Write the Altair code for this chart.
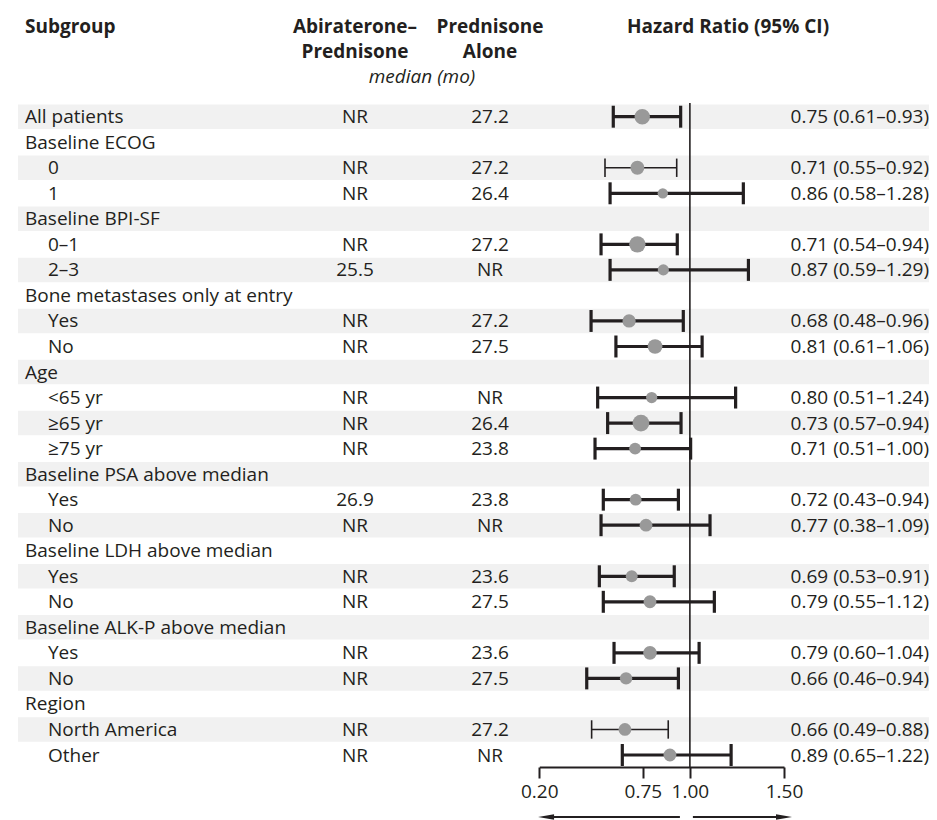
import altair as alt
import pandas as pd

# ---------------- data ----------------
labels = ["All patients", "Baseline ECOG", "0", "1", "Baseline BPI-SF", "0–1", "2–3",
          "Bone metastases only at entry", "Yes", "No", "Age", "<65 yr", "≥65 yr", "≥75 yr",
          "Baseline PSA above median", "Yes", "No", "Baseline LDH above median", "Yes", "No",
          "Baseline ALK-P above median", "Yes", "No", "Region", "North America", "Other"]
level = [0, 0, 1, 1, 0, 1, 1, 0, 1, 1, 0, 1, 1, 1, 0, 1, 1, 0, 1, 1, 0, 1, 1, 0, 1, 1]
abi_median = ["NR", "", "NR", "NR", "", "NR", "25.5", "", "NR", "NR", "", "NR", "NR", "NR",
              "", "26.9", "NR", "", "NR", "NR", "", "NR", "NR", "", "NR", "NR"]
pred_median = ["27.2", "", "27.2", "26.4", "", "27.2", "NR", "", "27.2", "27.5", "", "NR", "26.4", "23.8",
               "", "23.8", "NR", "", "23.6", "27.5", "", "23.6", "27.5", "", "27.2", "NR"]
hr_text = ["0.75 (0.61–0.93)", "", "0.71 (0.55–0.92)", "0.86 (0.58–1.28)", "",
           "0.71 (0.54–0.94)", "0.87 (0.59–1.29)", "", "0.68 (0.48–0.96)", "0.81 (0.61–1.06)", "",
           "0.80 (0.51–1.24)", "0.73 (0.57–0.94)", "0.71 (0.51–1.00)", "",
           "0.72 (0.43–0.94)", "0.77 (0.38–1.09)", "", "0.69 (0.53–0.91)", "0.79 (0.55–1.12)", "",
           "0.79 (0.60–1.04)", "0.66 (0.46–0.94)", "", "0.66 (0.49–0.88)", "0.89 (0.65–1.22)"]
# drawn positions
hr_point = [0.747, None, 0.721, 0.856, None, 0.721, 0.859, None, 0.677, 0.815, None,
            0.797, 0.740, 0.709, None, 0.712, 0.767, None, 0.691, 0.788, None,
            0.788, 0.661, None, 0.655, 0.894]
ci_lo = [0.593, None, 0.549, 0.576, None, 0.528, 0.576, None, 0.475, 0.607, None,
         0.510, 0.563, 0.496, None, 0.540, 0.528, None, 0.519, 0.540, None,
         0.597, 0.452, None, 0.478, 0.641]
ci_hi = [0.951, None, 0.930, 1.284, None, 0.933, 1.311, None, 0.965, 1.065, None,
         1.243, 0.953, 1.004, None, 0.939, 1.107, None, 0.917, 1.130, None,
         1.049, 0.939, None, 0.885, 1.219]
weight = [76, None, 61, 34, None, 85, 40, None, 56, 69, None, 40, 90, 45, None,
          45, 52, None, 45, 53, None, 59, 49, None, 52, 53]
axis_ticks = [0.20, 0.75, 1.00, 1.50]

df = pd.DataFrame({
    "row": list(range(len(labels))), "label": labels, "level": level,
    "abi": abi_median, "pred": pred_median, "hrt": hr_text,
    "hr": hr_point, "lo": ci_lo, "hi": ci_hi, "w": weight,
})
one = pd.DataFrame({"k": [0]})

INK = "#231f20"
FONT = "Open Sans"
FS = 19
THIN = "datum.row == 2 || datum.row == 24"
W, H = 921, 759

xsc = alt.Scale(domain=[0.2, 1.5], range=[531.3, 776], zero=False, nice=False)
ysc = alt.Scale(domain=[0, 25], range=[108.7, 747], zero=False, nice=False)
xaxis = alt.Axis(values=axis_ticks, format=".2f", title=None, grid=False, tickSize=11,
                 tickWidth=2, domainWidth=2, domainColor=INK, tickColor=INK, labelColor=INK,
                 labelFont=FONT, labelFontSize=FS, labelPadding=4, labelFlush=False)
X = lambda f: alt.X(f, scale=xsc, axis=xaxis)
XD = lambda v: alt.XDatum(v, scale=xsc, axis=xaxis)
Y = lambda f: alt.Y(f, scale=ysc, axis=None)

bands = alt.Chart(df).transform_filter("datum.row % 2 == 0").transform_calculate(
    y0="datum.row - 0.48", y1="datum.row + 0.48"
).mark_rect(color="#f1f1f1").encode(
    x=alt.value(10), x2=alt.value(W), y=Y("y0:Q"), y2="y1:Q")

ci = alt.Chart(df).transform_filter("isValid(datum.hr)").mark_rule(color=INK).encode(
    x=X("lo:Q"), x2="hi:Q", y=Y("row:Q"),
    strokeWidth=alt.condition(THIN, alt.value(1.6), alt.value(3.2)))

refline = alt.Chart(one).mark_rule(color=INK, strokeWidth=1.6).encode(
    x=XD(1.0), y=alt.value(95), y2=alt.value(H))

caps = alt.Chart(df).transform_filter("isValid(datum.hr)").transform_fold(
    ["lo", "hi"], as_=["end", "xv"]
).transform_calculate(
    half=f"({THIN}) ? 0.36 : 0.43"
).transform_calculate(
    c0="datum.row - datum.half", c1="datum.row + datum.half"
).mark_rule(color=INK).encode(
    x=X("xv:Q"), y=Y("c0:Q"), y2="c1:Q",
    strokeWidth=alt.condition(THIN, alt.value(1.6), alt.value(3.2)))

pts = alt.Chart(df).transform_filter("isValid(datum.hr)").mark_circle(
    color="#999999", opacity=1).encode(
    x=X("hr:Q"), y=Y("row:Q"),
    size=alt.Size("w:Q", scale=alt.Scale(domain=[0, 100], range=[0, 314]), legend=None))

txt = dict(font=FONT, fontSize=FS, color=INK, baseline="alphabetic", dy=6.5)
lab0 = alt.Chart(df).transform_filter("datum.level == 0").mark_text(align="left", **txt).encode(
    x=alt.value(17), y=Y("row:Q"), text="label:N")
lab1 = alt.Chart(df).transform_filter("datum.level == 1").mark_text(align="left", **txt).encode(
    x=alt.value(40), y=Y("row:Q"), text="label:N")
col_abi = alt.Chart(df).mark_text(align="center", **txt).encode(
    x=alt.value(347), y=Y("row:Q"), text="abi:N")
col_pred = alt.Chart(df).mark_text(align="center", **txt).encode(
    x=alt.value(482), y=Y("row:Q"), text="pred:N")
col_hr = alt.Chart(df).mark_text(align="right", **txt).encode(
    x=alt.value(W), y=Y("row:Q"), text="hrt:N")

def head(t, x, y, align="center", bold=True, italic=False):
    kw = dict(font=FONT, fontSize=FS, color=INK, baseline="alphabetic", align=align, text=t)
    if bold:
        kw["fontWeight"] = "bold"
    if italic:
        kw["fontStyle"] = "italic"
    return alt.Chart(one).mark_text(**kw).encode(x=alt.value(x), y=alt.value(y))

headers = [
    head("Subgroup", 17, 25, align="left"),
    head("Abiraterone–", 347, 25), head("Prednisone", 347, 50),
    head("Prednisone", 482, 25), head("Alone", 482, 50),
    head("median (mo)", 414, 75, bold=False, italic=True),
    head("Hazard Ratio (95% CI)", 720, 25),
]

AY = 809
arr_l = alt.Chart(one).mark_rule(color=INK, strokeWidth=2).encode(
    x=XD(0.947), x2=alt.X2Datum(0.236), y=alt.value(AY))
arr_r = alt.Chart(one).mark_rule(color=INK, strokeWidth=2).encode(
    x=XD(1.016), x2=alt.X2Datum(1.50), y=alt.value(AY))
head_l = alt.Chart(one).mark_point(shape="M-1,0L1,-0.33L1,0.33Z", filled=True, size=256,
                                   color=INK, opacity=1).encode(x=XD(0.236), y=alt.value(AY))
head_r = alt.Chart(one).mark_point(shape="M1,0L-1,-0.33L-1,0.33Z", filled=True, size=256,
                                   color=INK, opacity=1).encode(x=XD(1.50), y=alt.value(AY))

chart = alt.layer(
    bands, ci, refline, caps, pts, lab0, lab1, col_abi, col_pred, col_hr,
    *headers, arr_l, arr_r, head_l, head_r
).properties(
    width=W, height=H, autosize="none", background="white",
    padding={"left": 0, "top": 0, "right": 0, "bottom": 53},
).configure_view(stroke=None)

chart.save("out.html", embed_options={"renderer": "svg", "actions": False})
